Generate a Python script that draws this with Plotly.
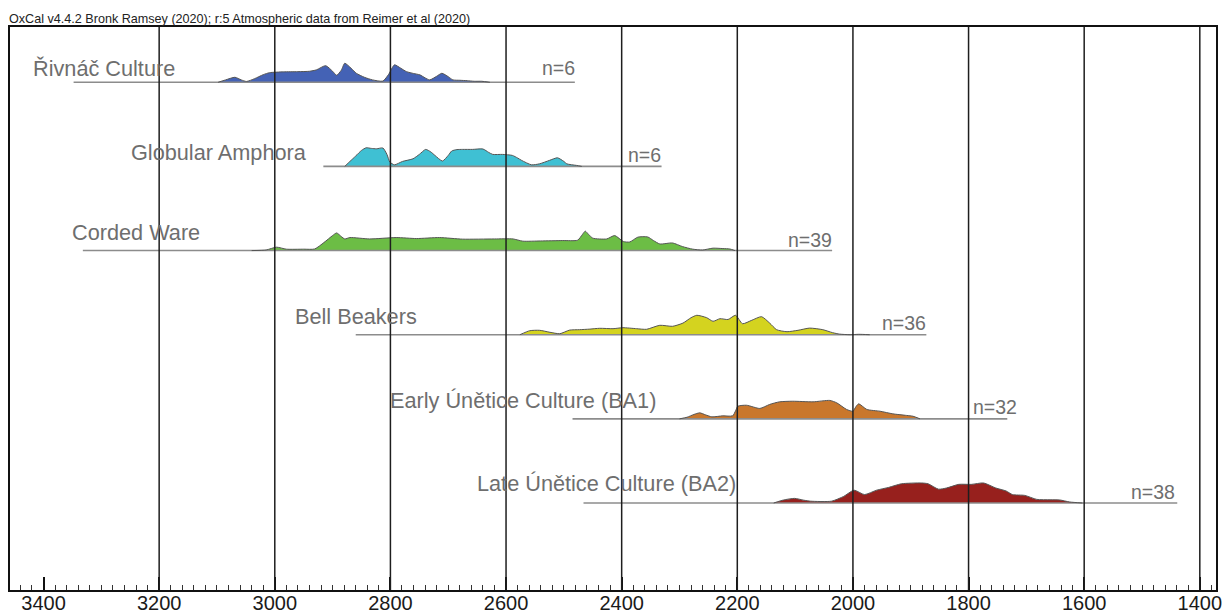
import plotly.graph_objects as go

# ---- calendar axis (years BC, drawn right-to-left in time) ----
X_LEFT, X_RIGHT = 3458, 1372
GRID_YEARS = [3200, 3000, 2800, 2600, 2400, 2200, 2000, 1800, 1600, 1400]

# ---- groups, sample sizes and plot colours ----
GROUPS = ["Řivnáč Culture", "Globular Amphora", "Corded Ware", "Bell Beakers",
          "Early Únětice Culture (BA1)", "Late Únětice Culture (BA2)"]
N_DATES = [6, 6, 39, 36, 32, 38]
COLORS = ["#4462b5", "#3fc0d3", "#6cbd45", "#d4d31f", "#c9772c", "#97201d"]

# overall range line of each KDE plot (years BC)
RANGE_START = [3348, 2916, 3332, 2860, 2485, 2466]
RANGE_END = [2481, 2331, 2036, 1873, 1733, 1439]

# ---- KDE profiles (years BC, relative density) ----
RIVNAC_YEARS = [3098, 3085, 3069, 3058, 3049, 3035, 3020, 3009, 2985, 2960, 2940,
                2928, 2912, 2900, 2893, 2885, 2879, 2868, 2859, 2845, 2831, 2813,
                2803, 2793, 2782, 2772, 2760, 2749, 2740, 2732, 2720, 2711, 2700,
                2692, 2680, 2667, 2655, 2642, 2628]
RIVNAC_DENS = [0.0, 0.12, 0.25, 0.12, 0.04, 0.18, 0.38, 0.48, 0.52, 0.53, 0.55,
               0.62, 0.83, 0.55, 0.35, 0.6, 0.95, 0.7, 0.45, 0.25, 0.12, 0.06,
               0.4, 0.87, 0.7, 0.53, 0.44, 0.37, 0.22, 0.12, 0.3, 0.45, 0.28,
               0.12, 0.1, 0.08, 0.05, 0.05, 0.0]

GLOBULAR_YEARS = [2879, 2870, 2860, 2850, 2842, 2833, 2824, 2813, 2806, 2801,
                  2793, 2779, 2761, 2750, 2739, 2730, 2723, 2710, 2700, 2694,
                  2685, 2675, 2658, 2640, 2630, 2623, 2606, 2589, 2580, 2573,
                  2556, 2542, 2525, 2511, 2500, 2495, 2478, 2469]
GLOBULAR_DENS = [0.0, 0.25, 0.52, 0.8, 0.93, 0.9, 0.88, 0.92, 0.6, 0.22,
                 0.08, 0.25, 0.38, 0.6, 0.85, 0.72, 0.55, 0.27, 0.55, 0.77,
                 0.84, 0.85, 0.85, 0.87, 0.7, 0.6, 0.6, 0.55, 0.42, 0.3,
                 0.08, 0.13, 0.3, 0.43, 0.25, 0.13, 0.05, 0.0]

CORDED_YEARS = [3040, 3015, 2997, 2980, 2950, 2931, 2915, 2900, 2893, 2885,
                2879, 2870, 2836, 2790, 2755, 2715, 2675, 2620, 2588, 2571,
                2540, 2502, 2476, 2468, 2463, 2457, 2450, 2426, 2412, 2397,
                2386, 2372, 2355, 2345, 2334, 2312, 2295, 2277, 2260, 2242,
                2225, 2213, 2204]
CORDED_DENS = [0.0, 0.03, 0.17, 0.07, 0.07, 0.08, 0.4, 0.75, 0.88, 0.7,
               0.58, 0.65, 0.58, 0.65, 0.6, 0.65, 0.57, 0.58, 0.58, 0.47,
               0.48, 0.5, 0.52, 0.8, 0.97, 0.8, 0.62, 0.58, 0.75, 0.45,
               0.43, 0.67, 0.68, 0.5, 0.33, 0.38, 0.2, 0.07, 0.03, 0.12,
               0.1, 0.08, 0.0]

BELL_YEARS = [2576, 2559, 2542, 2524, 2507, 2490, 2473, 2455, 2438, 2415,
              2398, 2374, 2357, 2334, 2312, 2294, 2280, 2270, 2253, 2242,
              2230, 2216, 2203, 2191, 2175, 2158, 2144, 2132, 2114, 2095,
              2075, 2052, 2035, 2023, 2005, 1990, 1971]
BELL_DENS = [0.0, 0.2, 0.22, 0.12, 0.05, 0.23, 0.25, 0.28, 0.32, 0.3,
             0.35, 0.3, 0.27, 0.47, 0.42, 0.58, 0.85, 0.97, 0.85, 0.67,
             0.8, 0.76, 0.97, 0.55, 0.72, 0.9, 0.58, 0.25, 0.15, 0.22,
             0.33, 0.25, 0.1, 0.03, 0.0, 0.02, 0.0]

EARLY_UNETICE_YEARS = [2300, 2287, 2275, 2265, 2255, 2244, 2225, 2208, 2203, 2199,
                       2184, 2161, 2144, 2127, 2104, 2069, 2040, 2028, 2011, 2000,
                       1995, 1990, 1976, 1953, 1931, 1907, 1896, 1884]
EARLY_UNETICE_DENS = [0.0, 0.08, 0.22, 0.3, 0.2, 0.1, 0.15, 0.15, 0.4, 0.63,
                      0.68, 0.52, 0.72, 0.85, 0.88, 0.85, 0.92, 0.8, 0.47, 0.38,
                      0.6, 0.75, 0.47, 0.38, 0.25, 0.17, 0.13, 0.0]

LATE_UNETICE_YEARS = [2137, 2120, 2101, 2085, 2073, 2037, 2016, 1998, 1980, 1959,
                      1938, 1916, 1881, 1870, 1852, 1838, 1817, 1795, 1774, 1753,
                      1735, 1724, 1703, 1682, 1659, 1642, 1625, 1603]
LATE_UNETICE_DENS = [0.0, 0.15, 0.23, 0.14, 0.09, 0.09, 0.33, 0.64, 0.42, 0.64,
                     0.78, 0.96, 1.0, 0.96, 0.69, 0.75, 0.93, 0.93, 1.0, 0.75,
                     0.6, 0.42, 0.38, 0.18, 0.16, 0.15, 0.05, 0.0]

PROFILE_YEARS = [RIVNAC_YEARS, GLOBULAR_YEARS, CORDED_YEARS, BELL_YEARS,
                 EARLY_UNETICE_YEARS, LATE_UNETICE_YEARS]
PROFILE_DENS = [RIVNAC_DENS, GLOBULAR_DENS, CORDED_DENS, BELL_DENS,
                EARLY_UNETICE_DENS, LATE_UNETICE_DENS]

# ---- label placement ----
LABEL_YEAR = [3422, 3252, 3354, 2969, 2805, 2653]
LABEL_LIFT = [0.166, 0.160, 0.214, 0.221, 0.222, 0.229]
N_LABEL_YEAR = [2478, 2328, 2033, 1870, 1713, 1440]
N_LABEL_LIFT = [0.164, 0.131, 0.131, 0.143, 0.139, 0.131]

PEAK = 0.238          # height of a relative density of 1 in row units
FONT = "Liberation Sans, Arial, sans-serif"

fig = go.Figure()
annotations = []
n_rows = len(GROUPS)
for i in range(n_rows):
    base = n_rows - i
    # range line under each plot
    fig.add_trace(go.Scatter(
        x=[RANGE_START[i], RANGE_END[i]], y=[base, base], mode="lines",
        line=dict(color="#8c8c8c", width=1.6), hoverinfo="skip"))
    # filled KDE profile
    fig.add_trace(go.Scatter(
        x=PROFILE_YEARS[i], y=[base + d * PEAK for d in PROFILE_DENS[i]],
        mode="lines", fill="tonexty", fillcolor=COLORS[i],
        line=dict(color="#555555", width=1, shape="spline", smoothing=0.6),
        name=GROUPS[i]))
    annotations.append(dict(
        x=LABEL_YEAR[i], y=base + LABEL_LIFT[i], xref="x", yref="y",
        text=GROUPS[i], showarrow=False, xanchor="left", yanchor="middle",
        font=dict(family=FONT, size=21.7, color="#6e6e6e")))
    annotations.append(dict(
        x=N_LABEL_YEAR[i], y=base + N_LABEL_LIFT[i], xref="x", yref="y",
        text=f"n={N_DATES[i]}", showarrow=False, xanchor="right", yanchor="middle",
        font=dict(family=FONT, size=19.5, color="#6e6e6e")))

annotations.append(dict(
    x=0, y=1, xref="paper", yref="paper", xanchor="left", yanchor="bottom",
    xshift=-3, yshift=-1,
    text="OxCal v4.4.2 Bronk Ramsey (2020); r:5 Atmospheric data from Reimer et al (2020)",
    showarrow=False, font=dict(family=FONT, size=12.6, color="#222222")))

shapes = [dict(type="line", xref="x", yref="paper", x0=yr, x1=yr, y0=0, y1=1,
               line=dict(color="#1e1e1e", width=1.5), layer="above")
          for yr in GRID_YEARS]

fig.update_layout(
    width=1224, height=611,
    margin=dict(l=10, r=8, t=27, b=21),
    paper_bgcolor="white", plot_bgcolor="white",
    showlegend=False,
    annotations=annotations, shapes=shapes,
    xaxis=dict(
        range=[X_LEFT, X_RIGHT], tickmode="linear", tick0=1400, dtick=200,
        ticks="inside", ticklen=13, tickwidth=1.5, tickcolor="#111111",
        showline=True, linewidth=2, linecolor="#111111", mirror=True,
        showgrid=False, zeroline=False, automargin=False,
        ticklabelstandoff=-6,
        tickfont=dict(family=FONT, size=20, color="#1a1a1a"),
        minor=dict(tickmode="linear", tick0=1400, dtick=20, ticks="inside",
                   ticklen=5, tickwidth=1, tickcolor="#333333", showgrid=False)),
    yaxis=dict(
        range=[-0.034, 6.657], showticklabels=False, ticks="",
        showgrid=False, zeroline=False, automargin=False,
        showline=True, linewidth=2, linecolor="#111111", mirror=True),
)

fig.write_html("out.html")
